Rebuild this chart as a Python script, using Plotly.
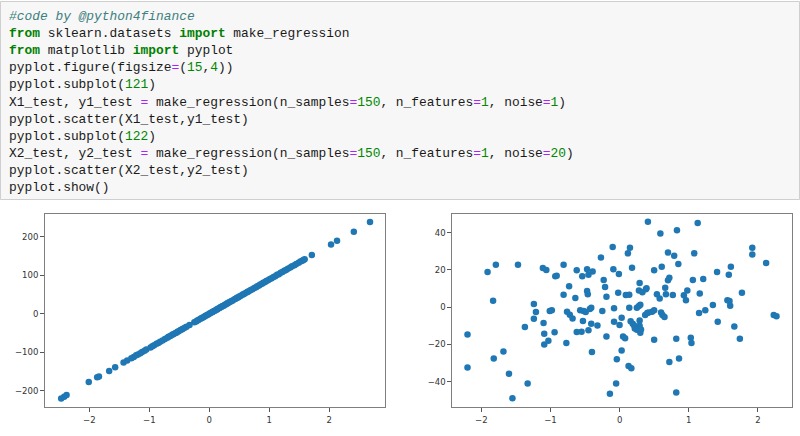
import re
import plotly.graph_objects as go

# ---------------- data ----------------
code_lines = [
    "#code by @python4finance",
    "from sklearn.datasets import make_regression",
    "from matplotlib import pyplot",
    "pyplot.figure(figsize=(15,4))",
    "pyplot.subplot(121)",
    "X1_test, y1_test = make_regression(n_samples=150, n_features=1, noise=1)",
    "pyplot.scatter(X1_test,y1_test)",
    "pyplot.subplot(122)",
    "X2_test, y2_test = make_regression(n_samples=150, n_features=1, noise=20)",
    "pyplot.scatter(X2_test,y2_test)",
    "pyplot.show()",
]

x1_test = [-2.47, -2.42, -2.38, -2.01, -1.87, -1.84, -1.67, -1.57, -1.43, -1.37,
           -1.30, -1.26, -1.22, -1.19, -1.15, -1.12, -1.08, -1.05, -0.98, -0.95,
           -0.92, -0.88, -0.85, -0.82, -0.78, -0.74, -0.70, -0.68, -0.65, -0.62,
           -0.60, -0.57, -0.55, -0.53, -0.51, -0.48, -0.46, -0.44, -0.41, -0.38,
           -0.33, -0.25, -0.22, -0.20, -0.18, -0.15, -0.13, -0.11, -0.09, -0.07,
           -0.05, -0.03, -0.01, 0.01, 0.03, 0.05, 0.06, 0.08, 0.10, 0.12,
           0.13, 0.15, 0.17, 0.19, 0.20, 0.22, 0.24, 0.26, 0.28, 0.30,
           0.31, 0.33, 0.35, 0.37, 0.39, 0.42, 0.44, 0.46, 0.48, 0.50,
           0.52, 0.55, 0.57, 0.59, 0.62, 0.64, 0.66, 0.69, 0.72, 0.75,
           0.78, 0.80, 0.83, 0.85, 0.88, 0.90, 0.93, 0.95, 0.98, 1.01,
           1.04, 1.07, 1.10, 1.13, 1.16, 1.19, 1.22, 1.25, 1.28, 1.31,
           1.35, 1.38, 1.42, 1.45, 1.49, 1.52, 1.55, 1.57, 1.59, 1.71,
           2.03, 2.13, 2.41, 2.68]
y1_test = [-219.9, -215.6, -211.3, -177.5, -165.2, -162.8, -148.9, -139.0, -126.6, -121.2,
           -115.9, -112.3, -107.9, -105.6, -102.4, -99.1, -96.3, -93.0, -87.4, -84.2,
           -81.9, -77.8, -75.9, -72.6, -69.6, -65.5, -62.5, -60.1, -58.0, -54.8,
           -53.6, -50.4, -49.2, -46.9, -45.6, -42.4, -41.1, -38.9, -36.7, -33.6,
           -29.5, -22.0, -19.9, -17.6, -16.2, -13.1, -11.8, -9.5, -8.2, -6.0,
           -4.7, -2.4, -1.3, 1.1, 2.4, 4.8, 5.1, 7.4, 8.6, 11.0,
           11.3, 13.6, 15.0, 17.3, 17.5, 19.9, 21.0, 23.5, 24.6, 27.0,
           27.3, 29.6, 30.8, 33.2, 34.4, 37.6, 38.9, 41.2, 42.4, 44.8,
           46.0, 49.3, 50.4, 52.8, 54.9, 57.3, 58.4, 61.8, 63.7, 67.1,
           69.0, 71.6, 73.5, 76.0, 77.9, 80.5, 82.3, 85.0, 86.8, 90.3,
           92.1, 95.6, 97.4, 101.0, 102.7, 106.3, 108.1, 111.6, 113.4, 116.9,
           119.8, 123.0, 125.9, 129.3, 132.2, 135.4, 137.5, 139.4, 141.8, 152.4,
           180.1, 189.6, 213.0, 238.1]

x2_test = [-2.20, -2.20, -1.91, -1.79, -1.83, -1.82, -1.68, -1.60, -1.55, -1.47,
           -1.37, -1.33, -1.24, -1.24, -1.21, -1.11, -1.06, -1.10, -1.09, -1.09,
           -1.03, -1.01, -0.98, -0.94, -0.93, -0.91, -0.81, -0.81, -0.77, -0.76,
           -0.73, -0.72, -0.68, -0.64, -0.62, -0.62, -0.57, -0.55, -0.54, -0.53,
           -0.52, -0.49, -0.47, -0.47, -0.46, -0.45, -0.45, -0.43, -0.41, -0.40,
           -0.39, -0.41, -0.32, -0.27, -0.25, -0.23, -0.21, -0.19, -0.19, -0.14,
           -0.10, -0.09, -0.08, -0.08, -0.05, -0.04, -0.02, -0.01, 0.00, 0.03,
           0.03, 0.05, 0.08, 0.09, 0.14, 0.12, 0.15, 0.14, 0.13, 0.17,
           0.18, 0.16, 0.19, 0.21, 0.22, 0.25, 0.25, 0.28, 0.30, 0.28,
           0.29, 0.29, 0.29, 0.30, 0.31, 0.33, 0.37, 0.38, 0.39, 0.40,
           0.41, 0.42, 0.47, 0.50, 0.50, 0.50, 0.54, 0.58, 0.59, 0.60,
           0.61, 0.62, 0.65, 0.66, 0.67, 0.70, 0.70, 0.72, 0.72, 0.77,
           0.79, 0.82, 0.82, 0.83, 0.85, 0.86, 0.93, 0.96, 0.98, 1.03,
           1.04, 1.06, 1.08, 1.13, 1.16, 1.15, 1.21, 1.24, 1.35, 1.41,
           1.42, 1.56, 1.58, 1.59, 1.60, 1.61, 1.66, 1.74, 1.77, 1.92,
           1.92, 2.12, 2.23, 2.27]
y2_test = [-14.6, -32.3, 18.9, 22.8, 3.5, -27.5, -23.7, -35.7, -48.9, 22.8,
           -10.6, -40.9, 1.7, -6.2, -2.6, 21.0, 19.9, -8.5, -14.2, -20.0,
           -18.0, -2.1, -1.7, -13.5, 16.6, 16.9, 22.8, 6.7, -19.2, -2.4,
           11.2, -4.0, -6.0, 4.9, 19.8, -13.3, -1.7, -13.2, 16.6, -7.4,
           -2.1, -2.6, 20.3, 8.7, 6.9, 17.4, -12.4, -1.0, -0.3, -24.1,
           19.1, -8.9, -9.8, 26.6, -2.1, 14.6, 10.8, 5.6, -15.7, -46.4,
           32.3, 20.3, -0.6, -7.8, -40.9, -27.9, 7.8, 17.8, -9.6, -5.6,
           -23.2, -15.7, -16.7, 6.5, 6.7, 28.9, 31.9, -0.3, -31.6, -32.8,
           21.2, -7.6, -8.9, -9.8, -11.4, -12.1, -0.3, 0.6, 1.3, 8.9,
           13.0, -7.1, -9.9, -13.7, -11.9, 8.0, -4.2, 9.6, 10.1, -3.1,
           45.9, -2.8, -2.4, 19.8, -1.7, -17.4, 6.9, 4.7, 39.5, -2.8,
           21.7, -4.2, -5.3, 10.5, 6.9, 29.3, 14.4, -29.4, 15.8, 6.5,
           27.6, -45.7, -16.9, 41.3, 23.2, -27.5, 6.4, 3.7, 8.9, -16.4,
           -19.2, 14.6, 28.9, 45.2, 7.4, -3.1, 15.1, -1.7, 1.2, 18.9,
           -7.8, 3.7, 17.4, 3.3, 0.8, 21.7, -10.3, -16.9, 7.8, 31.9,
           28.3, 23.7, -4.2, -4.9]

x_ticks = [-2, -1, 0, 1, 2]
y1_ticks = [-200, -100, 0, 100, 200]
y2_ticks = [-40, -20, 0, 20, 40]

# ---------------- figure ----------------
W, H = 800, 436
def px(v):
    return v / W
def py(v):
    return 1 - v / H

KW = "#008000"
NUM = "#008800"
OP = "#AA22FF"
COMMENT = "#408080"

def highlight(line):
    if line.startswith("#"):
        return f"<i><span style='color:{COMMENT}'>{line}</span></i>"
    pat = re.compile(r"\b(from|import)\b|(=)|(?<![\w])(\d+)(?![\w])")
    def rep(m):
        if m.group(1):
            return f"<b><span style='color:{KW}'>{m.group(1)}</span></b>"
        if m.group(2):
            return f"<span style='color:{OP}'>=</span>"
        return f"<span style='color:{NUM}'>{m.group(3)}</span>"
    return pat.sub(rep, line)

fig = go.Figure()
marker = dict(color="#1f77b4", size=6.5, line=dict(width=0))
fig.add_trace(go.Scatter(x=x1_test, y=y1_test, mode="markers", marker=marker,
                         xaxis="x", yaxis="y", showlegend=False))
fig.add_trace(go.Scatter(x=x2_test, y=y2_test, mode="markers", marker=marker,
                         xaxis="x2", yaxis="y2", showlegend=False))

axis_common = dict(showline=True, linecolor="#7f7f7f", linewidth=1, mirror=True,
                   showgrid=False, zeroline=False, ticks="outside", ticklen=4,
                   tickcolor="#555", tickwidth=1,
                   tickfont=dict(family="DejaVu Sans", size=8.5, color="#333"))

ydom = [py(407.3), py(214)]
fig.update_layout(
    width=W, height=H, margin=dict(l=0, r=0, t=0, b=0),
    paper_bgcolor="white", plot_bgcolor="white",
    xaxis=dict(domain=[px(45), px(385)], range=[-2.74, 2.93], anchor="y",
               tickvals=x_ticks, **axis_common),
    yaxis=dict(domain=ydom, range=[-243, 259], anchor="x",
               tickvals=y1_ticks, **axis_common),
    xaxis2=dict(domain=[px(452.3), px(791.7)], range=[-2.42, 2.49], anchor="y2",
                tickvals=x_ticks, **axis_common),
    yaxis2=dict(domain=ydom, range=[-53.7, 50.0], anchor="x2",
                tickvals=y2_ticks, **axis_common),
)

# code cell background
fig.add_shape(type="rect", xref="paper", yref="paper",
              x0=px(0.5), x1=px(799.5), y0=py(199.5), y1=py(1.5),
              fillcolor="#f7f7f7", line=dict(color="#cfcfcf", width=1), layer="below")

for i, line in enumerate(code_lines):
    fig.add_annotation(xref="paper", yref="paper", x=px(6.5), y=py(16.7 + i * 17.06),
                       xanchor="left", yanchor="middle", showarrow=False,
                       text=highlight(line),
                       font=dict(family="Liberation Mono", size=12.9, color="#1a1a1a"))

fig.write_html("out.html", config={"displayModeBar": False},
               post_script="document.body.style.margin='0';")
